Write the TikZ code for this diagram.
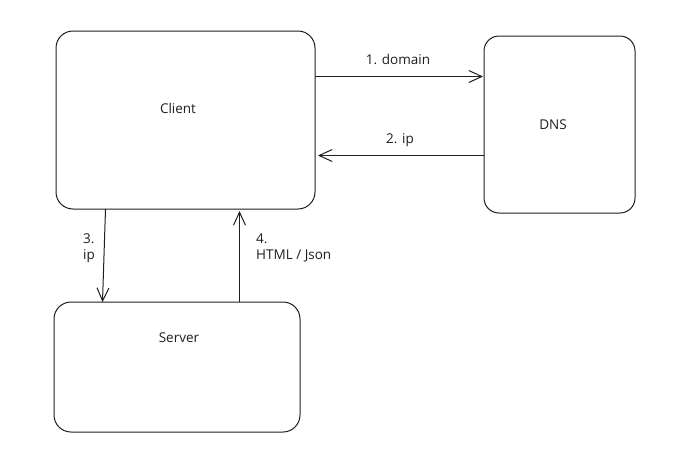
\documentclass[tikz,border=0pt]{standalone}
\usepackage{fontspec}
\setmainfont{Open Sans}
\usetikzlibrary{arrows.meta}
\definecolor{ink}{HTML}{1E1E1E}
\tikzset{
  box/.style={draw=ink, line width=1pt, rounded corners=17pt, inner sep=0pt, outer sep=0pt},
  txt/.style={text=ink, font=\fontsize{13.5}{15.5}\selectfont, inner sep=0pt},
  arr/.style={draw=ink, line width=1pt, -{Straight Barb[length=13pt,width=12pt,line width=1pt]}},
}
\begin{document}
\begin{tikzpicture}[x=1pt,y=-1pt]
  \useasboundingbox (0,0) rectangle (691,461);
  % boxes
  \node[box, minimum width=259pt, minimum height=178pt] (client) at (185.5,120) {};
  \node[box, minimum width=151pt, minimum height=177pt, rounded corners=15pt] (dns) at (559.5,124.5) {};
  \node[box, minimum width=246pt, minimum height=130pt] (server) at (177,367) {};
  % box titles
  \node[txt] (clientlbl) at (178,108) {Client};
  \node[txt] (dnslbl) at (553,125) {DNS};
  \node[txt] (serverlbl) at (179,338) {Server};
  % DNS lookup
  \draw[arr] (client.east |- 0,76.5) -- ([xshift=-1pt]dns.west |- 0,76.5);
  \node[txt] (l1) at (398,59) {1. domain};
  \draw[arr] (dns.west |- 0,155.5) -- ([xshift=3pt]client.east |- 0,155.5);
  \node[txt] (l2) at (400,140) {2. ip};
  % request / response
  \draw[arr] (client.south -| 105.5,0) -- (server.north -| 102.5,0);
  \node[txt, anchor=west, align=left] (l3) at (83,248) {3.\\ip};
  \draw[arr] (server.north -| 239.5,0) -- ([yshift=-2pt]client.south -| 239.5,0);
  \node[txt, anchor=west, align=left] (l4) at (256,248) {4.\\HTML / Json};
\end{tikzpicture}
\end{document}
